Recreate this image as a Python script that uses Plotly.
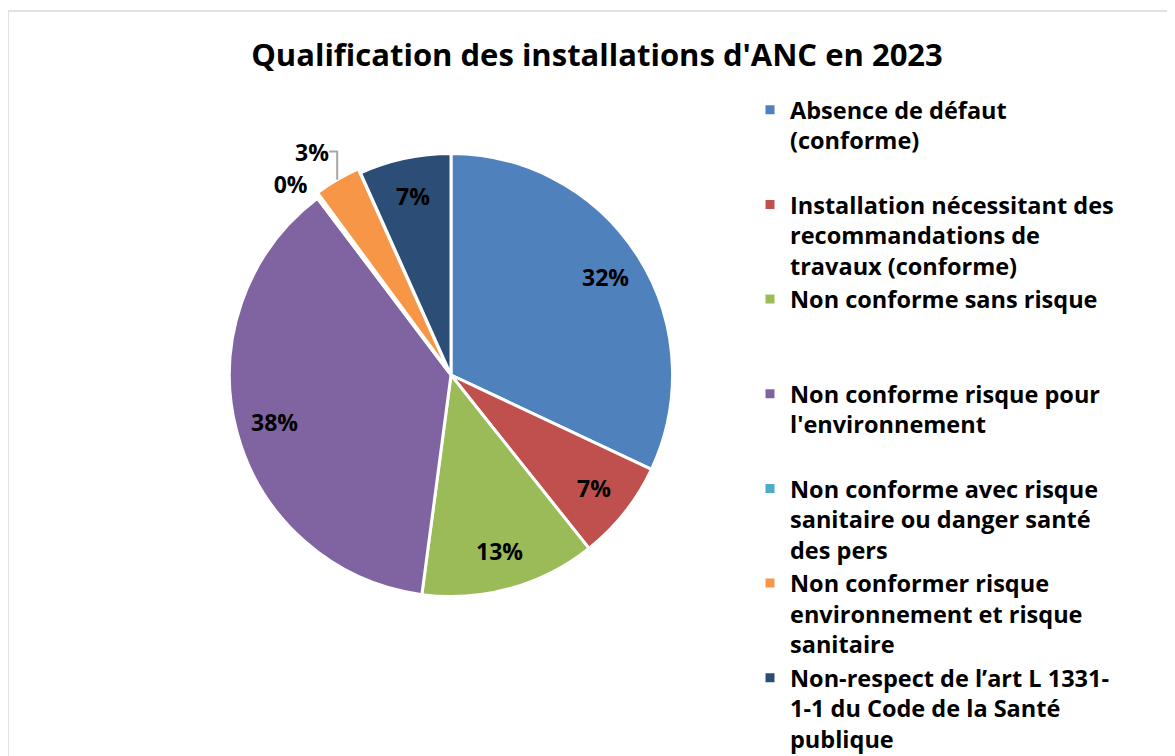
import math
import plotly.graph_objects as go

categories = [
    "Absence de défaut<br>(conforme)<br> ",
    "Installation nécessitant des<br>recommandations de<br>travaux (conforme)",
    "Non conforme sans risque<br> <br> ",
    "Non conforme risque pour<br>l'environnement<br> ",
    "Non conforme avec risque<br>sanitaire ou danger santé<br>des pers",
    "Non conformer risque<br>environnement et risque<br>sanitaire",
    "Non-respect de l’art L 1331-<br>1-1 du Code de la Santé<br>publique",
]
values = [32.0, 7.3, 12.8, 37.6, 0.2, 3.4, 6.7]
colors = ["#4F81BD", "#C0504D", "#9BBB59", "#8064A2", "#4BACC6", "#F79646", "#2C4D75"]
outside = [False, False, False, False, True, True, False]
pulls = [0, 0, 0, 0, 0.02, 0.02, 0]

W, H = 1175, 756
OFF = 8  # page body margin


def px(x):
    return (x - OFF) / W


def py(y):
    return 1 - (y - OFF) / H


cx, cy, r = 451, 375, 226
r_vis = 220
FONT = "Open Sans"

templates = ["<span style='color:black'>%{percent:.0%}</span>" if o else "" for o in outside]

fig = go.Figure(go.Pie(
    labels=categories,
    values=values,
    sort=False,
    direction="clockwise",
    rotation=0,
    marker=dict(colors=colors, line=dict(color="white", width=3)),
    texttemplate=templates,
    textposition=["outside" if o else "inside" for o in outside],
    textfont=dict(family=FONT, size=23, color="black", weight="bold"),
    outsidetextfont=dict(family=FONT, size=23, color="#A6A6A6", weight="bold"),
    pull=pulls,
    domain=dict(x=[px(cx - r), px(cx + r)], y=[py(cy + r), py(cy - r)]),
    hoverinfo="label+percent",
))

# inside data labels, placed along each slice's bisector (Excel-like)
total = sum(values)
annotations = []
cum = 0.0
for v, o in zip(values, outside):
    mid = (cum + v / 2) / total * 2 * math.pi
    cum += v
    if o:
        continue
    X = cx + 0.83 * r_vis * math.sin(mid)
    Y = cy - 0.83 * r_vis * math.cos(mid)
    annotations.append(dict(
        x=px(X), y=py(Y), xref="paper", yref="paper",
        text=f"<b>{round(v / total * 100)}%</b>", showarrow=False,
        xanchor="center", yanchor="middle",
        font=dict(family=FONT, size=23, color="black"),
    ))

fig.update_layout(
    width=W, height=H,
    margin=dict(l=0, r=0, t=0, b=0, autoexpand=False),
    paper_bgcolor="white",
    font=dict(family=FONT, color="black"),
    title=dict(text="<b>Qualification des installations d'ANC en 2023</b>",
               x=px(597), xanchor="center", y=py(55), yanchor="middle",
               font=dict(family=FONT, size=31, color="black")),
    legend=dict(x=px(750), xanchor="left", y=py(88), yanchor="top",
                valign="top", maxheight=2000,
                font=dict(family=FONT, size=23.5, color="black", weight="bold"),
                bgcolor="rgba(0,0,0,0)", traceorder="normal"),
    annotations=annotations,
    shapes=[dict(type="rect", xref="paper", yref="paper",
                 x0=px(8), x1=1.02, y0=-0.02, y1=py(11),
                 line=dict(color="#D9D9D9", width=1.5), fillcolor="rgba(0,0,0,0)")],
)

fig.write_html("out.html")
